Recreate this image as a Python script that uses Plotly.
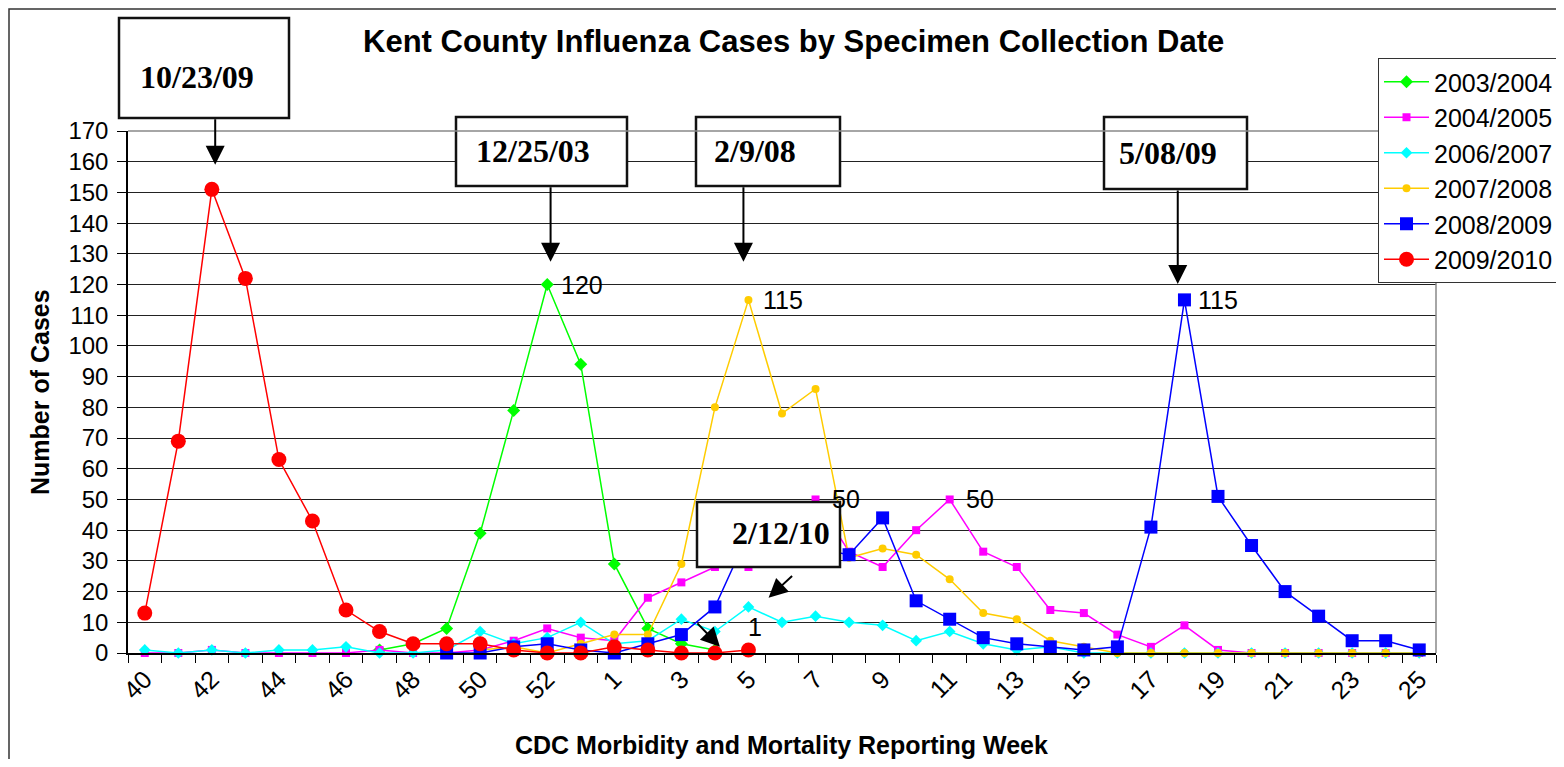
import plotly.graph_objects as go

# CDC reporting weeks (2009 had a week 53, its label is not shown)
weeks = [str(w) for w in range(40, 54)] + [str(w) for w in range(1, 26)]
week_labels = [w if (i % 2 == 0) else "" for i, w in enumerate(weeks)]

N = None
s2003 = [N, N, N, N, N, N, N, 1, 3, 8, 39, 79, 120, 94, 29, 8, 3, 1] + [N] * 21
s2004 = [0, 0, 1, 0, 0, 0, 0, 1, 0, 0, 1, 4, 8, 5, 4, 18, 23, 28, 28, 40, 50, 33, 28, 40,
         50, 33, 28, 14, 13, 6, 2, 9, 1, 0, 0, 0, 0, 0, 0]
s2006 = [1, 0, 1, 0, 1, 1, 2, 0, 0, 1, 7, 3, 5, 10, 3, 4, 11, 7, 15, 10, 12, 10, 9, 4,
         7, 3, 1, 2, 0, 0, 0, 0, 0, 0, 0, 0, 0, 0, 0]
s2007 = [N] * 10 + [1, 2, 0, 3, 6, 6, 29, 80, 115, 78, 86, 31, 34, 32, 24, 13, 11, 4, 2,
                    0, 0, 0, 0, 0, 0, 0, 0, 0, 0]
s2008 = [N] * 9 + [0, 0, 2, 3, 1, 0, 3, 6, 15, 39, 37, 34, 32, 44, 17, 11, 5, 3, 2, 1, 2,
                   41, 115, 51, 35, 20, 12, 4, 4, 1]
s2009 = [13, 69, 151, 122, 63, 43, 14, 7, 3, 3, 3, 1, 0, 0, 2, 1, 0, 0, 1] + [N] * 20

series = [
    ("2003/2004", s2003, "#00FF00", "diamond", 10),
    ("2004/2005", s2004, "#FF00FF", "square", 8),
    ("2006/2007", s2006, "#00FFFF", "diamond", 9),
    ("2007/2008", s2007, "#FFCC00", "circle", 8),
    ("2008/2009", s2008, "#0000FF", "square", 13),
    ("2009/2010", s2009, "#FF0000", "circle", 15),
]

SANS = "Liberation Sans, Arial, sans-serif"
SERIF = "Liberation Serif, Times New Roman, serif"

# page body has an 8px margin; figure size chosen so no scrollbars appear
OFF = 8
W, H = 1556, 751
# plot area in screen pixels
L, R, T, B = 128, 1436, 131, 653


def px(x):
    return (x - L) / (R - L)


def py(y):
    return (B - y) / (B - T)


fig = go.Figure()
for name, vals, color, sym, size in series:
    fig.add_trace(go.Scatter(
        x=weeks, y=vals, name=name, mode="lines+markers",
        line=dict(color=color, width=1.5),
        marker=dict(color=color, symbol=sym, size=size),
        legendgroup=name, cliponaxis=False,
    ))

annotations = []
shapes = []

# callout boxes with dates
boxes = [
    ("10/23/09", (119, 18, 289, 118), (197, 77)),
    ("12/25/03", (456, 117, 627, 186), (533, 151)),
    ("2/9/08", (696, 117, 840, 186), (755, 151)),
    ("5/08/09", (1104, 117, 1247, 189), (1168, 153)),
    ("2/12/10", (697, 502, 840, 567), (781, 533)),
]
for text, (x0, y0, x1, y1), (tx, ty) in boxes:
    shapes.append(dict(type="rect", xref="paper", yref="paper",
                       x0=px(x0), x1=px(x1), y0=py(y1), y1=py(y0),
                       line=dict(color="#111", width=2.5), fillcolor="white",
                       layer="above"))
    annotations.append(dict(text="<b>%s</b>" % text, xref="paper", yref="paper",
                            x=px(tx), y=py(ty), xanchor="center", yanchor="middle",
                            showarrow=False,
                            font=dict(family=SERIF, size=32, color="black")))

# arrows (head position in data coords, tail offset in px)
arrows = [
    (2.1, 159, 0, -47),
    (12.1, 127.4, 0, -76),
    (17.85, 127.4, 0, -76),
    (30.8, 120.2, 0, -95),
    (18.6, 18, 25, -23),
    (17.15, 2, -24, -25),
]
for hx, hy, ax, ay in arrows:
    annotations.append(dict(x=hx, y=hy, xref="x", yref="y", text="", showarrow=True,
                            ax=ax, ay=ay, arrowhead=2, arrowsize=1.9, arrowwidth=2,
                            arrowcolor="black", standoff=0))

# data labels (x given as category index)
labels = [
    (12, s2003[12], "120", 12, 0, "left"),
    (18, s2007[18], "115", 13, 0, "left"),
    (31, s2008[31], "115", 12, 0, "left"),
    (20, s2004[20], "50", 14, 0, "left"),
    (24, s2004[24], "50", 14, 0, "left"),
    (18, s2009[18], "1", 7, 23, "center"),
]
for lx, ly, t, xs, ys, anc in labels:
    annotations.append(dict(x=lx, y=ly, xref="x", yref="y", text=t, showarrow=False,
                            xanchor=anc, yanchor="middle", xshift=xs, yshift=ys,
                            font=dict(family=SANS, size=25, color="black")))

# titles
annotations.append(dict(text="<b>Kent County Influenza Cases by Specimen Collection Date</b>",
                        xref="paper", yref="paper", x=px(794), y=py(42),
                        xanchor="center", yanchor="middle", showarrow=False,
                        font=dict(family=SANS, size=31, color="black")))
annotations.append(dict(text="<b>Number of Cases</b>", xref="paper", yref="paper",
                        x=px(40), y=py(392), xanchor="center", yanchor="middle",
                        showarrow=False, textangle=-90,
                        font=dict(family=SANS, size=25, color="black")))
annotations.append(dict(text="<b>CDC Morbidity and Mortality Reporting Week</b>",
                        xref="paper", yref="paper", x=px(781), y=py(745),
                        xanchor="center", yanchor="middle", showarrow=False,
                        font=dict(family=SANS, size=25, color="black")))

# plot border (top/right gray) and outer chart frame
shapes.append(dict(type="line", xref="paper", yref="paper", x0=0, x1=1, y0=1, y1=1,
                   line=dict(color="#888", width=1.5)))
shapes.append(dict(type="line", xref="paper", yref="paper", x0=1, x1=1, y0=0, y1=1,
                   line=dict(color="#888", width=1.5)))
shapes.append(dict(type="rect", xref="paper", yref="paper",
                   x0=px(OFF + 1), x1=px(1600), y0=py(800), y1=py(OFF + 1),
                   line=dict(color="#333", width=1.5), layer="below"))

fig.update_layout(
    width=W, height=H,
    margin=dict(l=L - OFF, r=W - (R - OFF), t=T - OFF, b=H - (B - OFF),
                autoexpand=False),
    paper_bgcolor="white", plot_bgcolor="white",
    font=dict(family=SANS, color="black"),
    showlegend=True,
    legend=dict(x=px(1378), y=py(58), xanchor="left", yanchor="top",
                bgcolor="white", bordercolor="#333", borderwidth=1, itemwidth=45,
                font=dict(family=SANS, size=25), tracegroupgap=0),
    annotations=annotations,
    shapes=shapes,
    xaxis=dict(type="category", categoryorder="array", categoryarray=weeks,
               range=[-0.5, len(weeks) - 0.5], tickmode="array", tickvals=weeks,
               ticktext=week_labels, tickson="boundaries", ticks="outside", ticklen=8,
               tickcolor="black", tickangle=-45, tickfont=dict(size=25),
               showgrid=False, showline=True, linecolor="black", linewidth=1.5,
               zeroline=False, automargin=False),
    yaxis=dict(range=[0, 170], dtick=10, ticks="outside", ticklen=9, tickcolor="black",
               tickfont=dict(size=24), showgrid=True, gridcolor="#222", gridwidth=1,
               showline=True, linecolor="black", linewidth=1.5, zeroline=False,
               automargin=False, ticklabelstandoff=4),
)

fig.write_html("out.html")
